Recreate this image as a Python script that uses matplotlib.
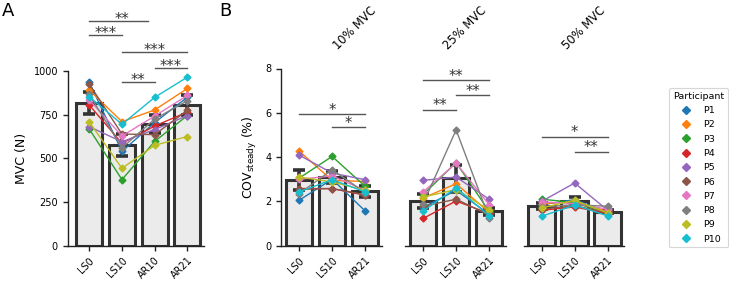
import numpy as np
import matplotlib
matplotlib.use("Agg")
import matplotlib.pyplot as plt

participants = ["P1", "P2", "P3", "P4", "P5", "P6", "P7", "P8", "P9", "P10"]
colors = ["#1f77b4", "#ff7f0e", "#2ca02c", "#d62728", "#9467bd",
          "#8c564b", "#e377c2", "#7f7f7f", "#bcbd22", "#17becf"]

# Panel A: MVC (N)
mvc_conditions = ["LS0", "LS10", "AR10", "AR21"]
mvc_LS0  = [935, 891, 668, 805, 681, 925, 834, 866, 708, 853]
mvc_LS10 = [540, 710, 378, 586, 595, 639, 628, 560, 443, 695]
mvc_AR10 = [705, 777, 597, 685, 665, 636, 742, 725, 575, 849]
mvc_AR21 = [850, 900, 745, 765, 745, 775, 860, 830, 625, 965]

# Panel B: COV steady (%)
cov_conditions = ["LS0", "LS10", "AR21"]
cov_titles = ["10% MVC", "25% MVC", "50% MVC"]
cov10_LS0  = [2.05, 4.27, 3.05, 2.58, 4.09, 2.55, 3.00, 2.35, 3.10, 2.43]
cov10_LS10 = [3.00, 2.95, 4.03, 2.58, 3.28, 2.58, 3.15, 3.43, 2.88, 2.98]
cov10_AR21 = [1.57, 2.90, 2.68, 2.28, 2.98, 2.30, 2.50, 2.40, 2.50, 2.43]
cov25_LS0  = [1.73, 2.15, 2.31, 1.23, 2.95, 1.78, 2.43, 1.90, 2.20, 1.56]
cov25_LS10 = [2.50, 2.80, 3.75, 2.02, 3.10, 2.10, 3.73, 5.23, 2.53, 2.62]
cov25_AR21 = [1.42, 1.50, 1.55, 1.45, 2.10, 1.38, 1.85, 1.25, 1.62, 1.35]
cov50_LS0  = [1.85, 1.90, 2.10, 1.60, 2.00, 1.65, 1.98, 1.75, 1.71, 1.33]
cov50_LS10 = [2.08, 1.98, 1.95, 1.75, 2.83, 1.80, 1.90, 1.85, 2.05, 1.83]
cov50_AR21 = [1.50, 1.55, 1.45, 1.45, 1.60, 1.50, 1.65, 1.78, 1.48, 1.35]

# significance annotations: (i, j, y, label)
sig_A = [(0, 1.8, 1286, "**"), (0, 1, 1206, "***"), (1, 3, 1110, "***"),
         (2, 3, 1015, "***"), (1, 2, 939, "**")]
sig_B = [
    [(0, 2, 5.94, "*"), (1, 2, 5.34, "*")],
    [(0, 2, 7.48, "**"), (1, 2, 6.80, "**"), (0, 1, 6.14, "**")],
    [(0, 2, 4.93, "*"), (1, 2, 4.25, "**")],
]

W, H = 729, 282
fig = plt.figure(figsize=(W / 100, H / 100), dpi=100)

BAR_FC = "#ebebeb"
EDGE = "#333333"


def px_axes(left, bottom_y, width, height):
    return fig.add_axes([left / W, 1 - bottom_y / H, width / W, height / H])


def draw_panel(ax, data, conds):
    data = np.array(data, dtype=float)  # shape (cond, participant)
    x = np.arange(len(conds))
    means = data.mean(axis=1)
    ci = 1.96 * data.std(axis=1, ddof=1) / np.sqrt(data.shape[1])
    ax.bar(x, means, width=0.8, color=BAR_FC, edgecolor=EDGE, linewidth=2.2, zorder=1)
    ax.errorbar(x, means, yerr=ci, fmt="none", ecolor=EDGE, elinewidth=2.6,
                capsize=4, capthick=2.6, zorder=2)
    for p in range(data.shape[1]):
        ax.plot(x, data[:, p], color=colors[p], lw=1.0, marker="D", ms=3.5,
                zorder=3 + p * 0.01, label=participants[p])
    ax.set_xticks(x)
    ax.set_xticklabels(conds, rotation=45, ha="right", rotation_mode="anchor", fontsize=7)
    ax.spines["top"].set_visible(False)
    ax.spines["right"].set_visible(False)
    for s in ("left", "bottom"):
        ax.spines[s].set_linewidth(1.0)
        ax.spines[s].set_color("#222222")
    ax.tick_params(axis="both", labelsize=7, length=3.5, width=1.0, color="#222222")


def draw_sig(ax, sigs, dy_px):
    for i, j, y, lab in sigs:
        ax.plot([i, j], [y, y], color="#555555", lw=1.0, clip_on=False, zorder=5)
        ax.annotate(lab, xy=((i + j) / 2 if j != 1.8 else 1.0, y), xytext=(0, dy_px),
                    textcoords="offset pixels", ha="center", va="baseline",
                    fontsize=10.5, color="#333333", annotation_clip=False)


# Panel A
axA = px_axes(67.7, 245.7, 136, 174.7)
draw_panel(axA, [mvc_LS0, mvc_LS10, mvc_AR10, mvc_AR21], mvc_conditions)
axA.set_xlim(-0.66, 3.5)
axA.set_ylim(0, 1000)
axA.set_yticks([0, 250, 500, 750, 1000])
axA.set_ylabel("MVC (N)", fontsize=9)
draw_sig(axA, sig_A, -3)
fig.text(2 / W, 1 - 2 / H, "A", fontsize=13, ha="left", va="top")

# Panel B
cov_data = [
    [cov10_LS0, cov10_LS10, cov10_AR21],
    [cov25_LS0, cov25_LS10, cov25_AR21],
    [cov50_LS0, cov50_LS10, cov50_AR21],
]
lefts = [281, 405, 523.5]
title_x = [0.567, 0.43, 0.43]
axesB = []
for k in range(3):
    ax = px_axes(lefts[k], 245.7, 100.6, 177.2)
    draw_panel(ax, cov_data[k], cov_conditions)
    ax.set_xlim(-0.55, 2.5)
    ax.set_ylim(0, 8)
    ax.set_yticks([0, 2, 4, 6, 8])
    if k == 0:
        ax.set_ylabel("COV$_{\\mathrm{steady}}$ (%)", fontsize=9)
    else:
        ax.spines["left"].set_visible(False)
        ax.tick_params(axis="y", left=False, labelleft=False)
    draw_sig(ax, sig_B[k], -0.5)
    ax.text(title_x[k], 1.105, cov_titles[k], transform=ax.transAxes, rotation=45,
            rotation_mode="anchor", ha="left", va="baseline", fontsize=8.3)
    axesB.append(ax)

fig.text(219 / W, 1 - 2 / H, "B", fontsize=13, ha="left", va="top")

handles = [plt.Line2D([], [], color=c, marker="D", ms=4, lw=0) for c in colors]
leg = fig.legend(handles, participants, title="Participant", loc="upper left",
                 bbox_to_anchor=(669 / W, 1 - 88 / H), borderaxespad=0,
                 fontsize=6.8, title_fontsize=6.8, labelspacing=0.56,
                 borderpad=0.4, handlelength=2.0, handletextpad=0.8,
                 frameon=True, fancybox=True)
leg.get_frame().set_edgecolor("#cccccc")
leg.get_frame().set_linewidth(0.8)

fig.savefig("out.png", dpi=100)
